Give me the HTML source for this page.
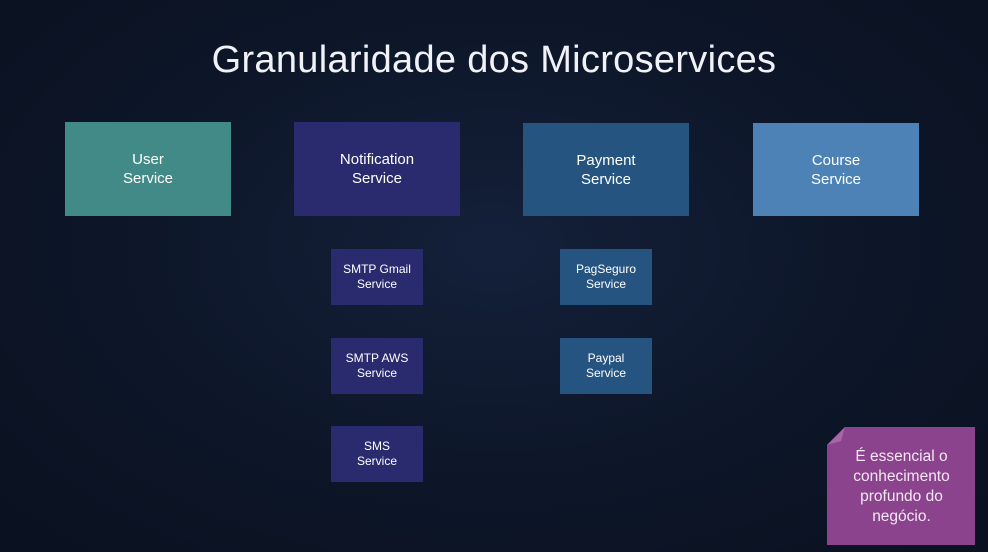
<!DOCTYPE html>
<html><head><meta charset="utf-8"><style>
body{margin:0;width:988px;height:552px;overflow:hidden;background:radial-gradient(ellipse at 50% 45%,#14203a 0%,#0d1628 55%,#0a1120 100%);font-family:"Liberation Sans",sans-serif;color:#fff;position:relative}
.t{position:absolute;top:39px;left:0;width:988px;text-align:center;font-size:38px;color:#f0f2f8;letter-spacing:0.3px}
.b{position:absolute;display:flex;align-items:center;justify-content:center;text-align:center;box-sizing:border-box}
.L{width:166px;height:94px;top:122px;font-size:15px;line-height:19px}
.S{width:92px;height:56px;font-size:12px;line-height:15px}
.n{background:#2a2a6e}.p{background:#255480}
</style></head><body>
<div class="t">Granularidade dos Microservices</div>
<div class="b L" style="left:65px;background:#428a87">User<br>Service</div>
<div class="b L n" style="left:294px">Notification<br>Service</div>
<div class="b L p" style="left:523px;top:123px;height:93px">Payment<br>Service</div>
<div class="b L" style="left:753px;top:123px;height:93px;background:#4c82b6">Course<br>Service</div>
<div class="b S n" style="left:331px;top:249px">SMTP Gmail<br>Service</div>
<div class="b S n" style="left:331px;top:338px">SMTP AWS<br>Service</div>
<div class="b S n" style="left:331px;top:426px">SMS<br>Service</div>
<div class="b S p" style="left:560px;top:249px">PagSeguro<br>Service</div>
<div class="b S p" style="left:560px;top:338px">Paypal<br>Service</div>
<svg style="position:absolute;left:827px;top:427px" width="149" height="119"><polygon points="18,0 148,0 148,118 0,118 0,18" fill="#8a438c"/><polygon points="18,0 0,18 14,14" fill="#a865a8"/></svg>
<div class="b" style="left:827px;top:427px;width:149px;height:119px;font-size:15.5px;line-height:20px;color:#f3e8f3">É essencial o<br>conhecimento<br>profundo do<br>negócio.</div>
</body></html>
